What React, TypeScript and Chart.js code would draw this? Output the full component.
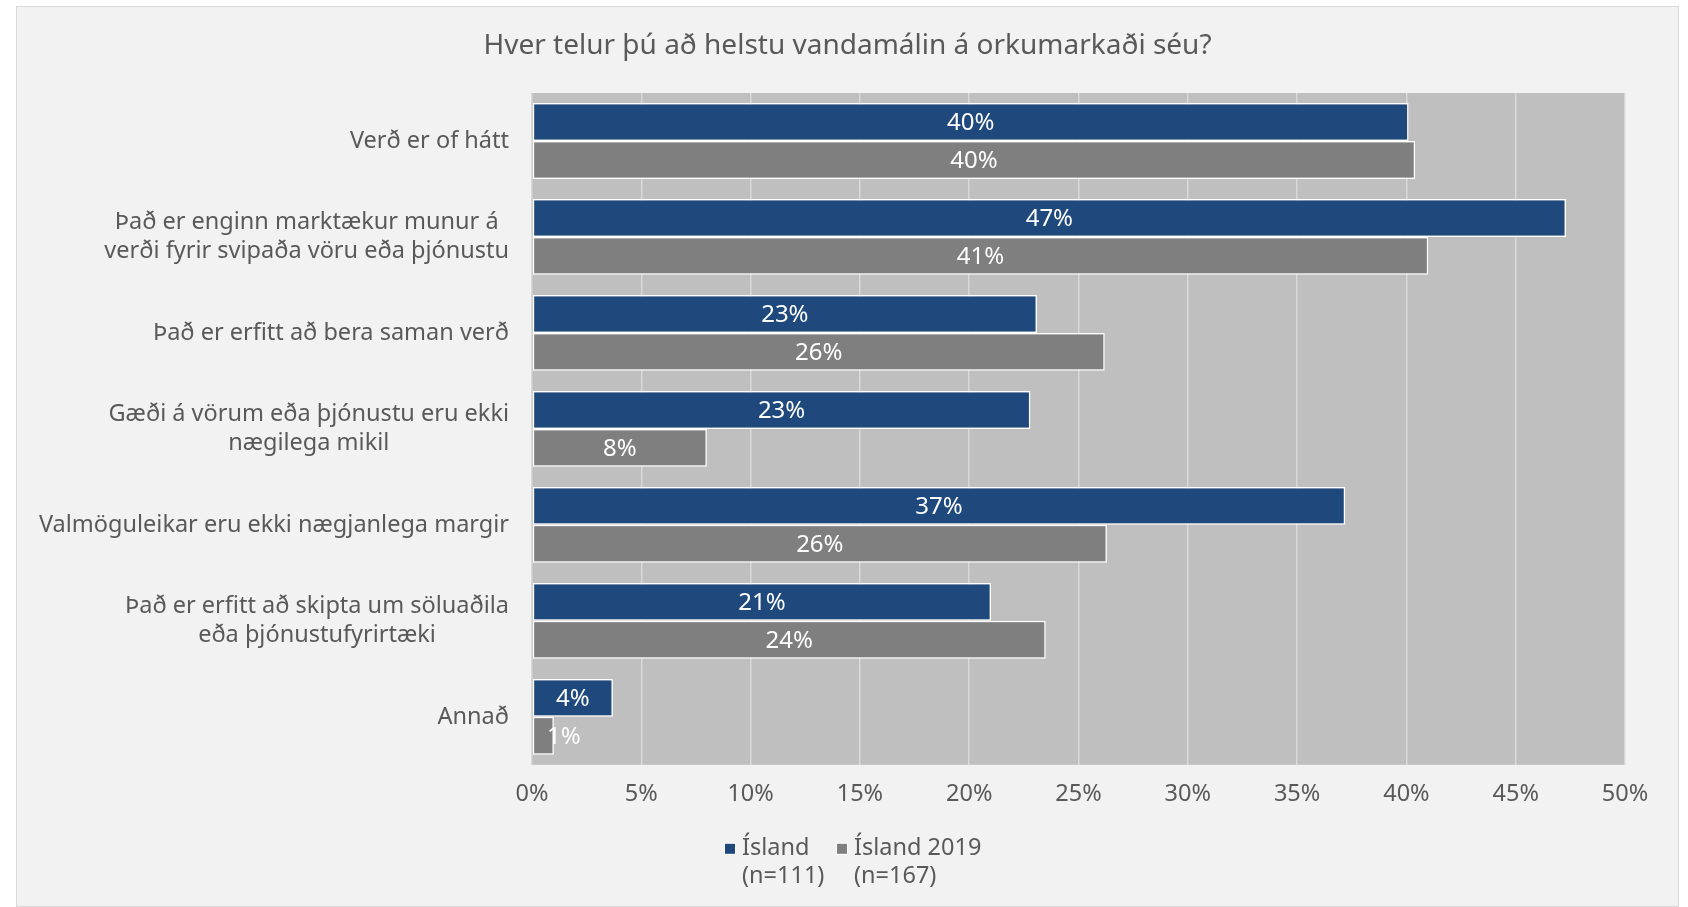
import React, { useEffect, useRef } from "react";
import { Chart, registerables } from "chart.js";

Chart.register(...registerables);

const title = "Hver telur þú að helstu vandamálin á orkumarkaði séu?";
const categories: string[][] = [
  ["Verð er of hátt"],
  ["Það er enginn marktækur munur á", "verði fyrir svipaða vöru eða þjónustu"],
  ["Það er erfitt að bera saman verð"],
  ["Gæði á vörum eða þjónustu eru ekki", "nægilega mikil"],
  ["Valmöguleikar eru ekki nægjanlega margir"],
  ["Það er erfitt að skipta um söluaðila", "eða þjónustufyrirtæki"],
  ["Annað"],
];
const island = [40.1, 47.3, 23.1, 22.8, 37.2, 21.0, 3.7];
const island2019 = [40.4, 41.0, 26.2, 8.0, 26.3, 23.5, 1.0];
const seriesNames: string[][] = [
  ["Ísland", "(n=111)"],
  ["Ísland 2019", "(n=167)"],
];
const seriesColors = ["#1F497D", "#7F7F7F"];
const xMin = 0;
const xMax = 50;
const xStep = 5;

const FONT = "'Noto Sans', sans-serif";
const TEXT = "#595959";

const plotBg = {
  id: "plotBg",
  beforeDraw(chart: any) {
    const { ctx, chartArea } = chart;
    ctx.save();
    ctx.fillStyle = "#BFBFBF";
    ctx.fillRect(chartArea.left, chartArea.top, chartArea.right - chartArea.left, chartArea.bottom - chartArea.top);
    ctx.restore();
  },
};

const titlePlugin = {
  id: "centerTitle",
  afterDraw(chart: any) {
    const { ctx, width } = chart;
    ctx.save();
    ctx.font = `28px ${FONT}`;
    ctx.fillStyle = TEXT;
    ctx.textAlign = "center";
    ctx.textBaseline = "middle";
    ctx.fillText(title, width / 2, 39);
    ctx.restore();
  },
};

const yLabels = {
  id: "yLabels",
  afterDraw(chart: any) {
    const { ctx, chartArea } = chart;
    const yScale = chart.scales.y;
    ctx.save();
    ctx.font = `23.5px ${FONT}`;
    ctx.fillStyle = TEXT;
    ctx.textAlign = "center";
    ctx.textBaseline = "middle";
    const right = chartArea.left - 23;
    const lh = 29;
    categories.forEach((lines, i) => {
      const y = yScale.getPixelForTick(i);
      const w = Math.max(...lines.map((l) => ctx.measureText(l).width));
      const cx = right - w / 2;
      const y0 = y - ((lines.length - 1) * lh) / 2;
      lines.forEach((l, j) => ctx.fillText(l, cx, y0 + j * lh));
    });
    ctx.restore();
  },
};

const dataLabels = {
  id: "dataLabels",
  afterDatasetsDraw(chart: any) {
    const { ctx, chartArea } = chart;
    ctx.save();
    ctx.font = `24px ${FONT}`;
    ctx.fillStyle = "#FFFFFF";
    ctx.textAlign = "center";
    ctx.textBaseline = "middle";
    chart.data.datasets.forEach((ds: any, di: number) => {
      const meta = chart.getDatasetMeta(di);
      meta.data.forEach((el: any, i: number) => {
        const txt = Math.round(ds.data[i]) + "%";
        const w = ctx.measureText(txt).width;
        let cx = (el.x + el.base) / 2;
        cx = Math.max(cx, chartArea.left + 15 + w / 2);
        ctx.fillText(txt, cx, el.y + 1);
      });
    });
    ctx.restore();
  },
};

const customLegend = {
  id: "customLegend",
  afterDraw(chart: any) {
    const { ctx, chartArea } = chart;
    ctx.save();
    ctx.font = `23.5px ${FONT}`;
    ctx.textBaseline = "middle";
    ctx.textAlign = "left";
    const y1 = chartArea.bottom + 84;
    const lh = 28;
    seriesNames.forEach((lines, i) => {
      const x = 708 + i * 112;
      ctx.fillStyle = "#FFFFFF";
      ctx.fillRect(x - 1, y1 - 6, 12, 12);
      ctx.fillStyle = seriesColors[i];
      ctx.fillRect(x, y1 - 5, 10, 10);
      ctx.fillStyle = TEXT;
      const tx = x + 17;
      lines.forEach((l, j) => ctx.fillText(l, tx, y1 + j * lh));
    });
    ctx.restore();
  },
};

export default function App() {
  const ref = useRef<HTMLCanvasElement | null>(null);
  useEffect(() => {
    if (!ref.current) return;
    const chart = new Chart(ref.current, {
      type: "bar",
      data: {
        labels: categories.map((c) => c.join(" ")),
        datasets: [
          {
            label: seriesNames[0].join(" "),
            data: island,
            backgroundColor: seriesColors[0],
            borderColor: "#FFFFFF",
            borderWidth: 1.5,
            borderSkipped: false,
            categoryPercentage: 0.79,
            barPercentage: 1,
          },
          {
            label: seriesNames[1].join(" "),
            data: island2019,
            backgroundColor: seriesColors[1],
            borderColor: "#FFFFFF",
            borderWidth: 1.5,
            borderSkipped: false,
            categoryPercentage: 0.79,
            barPercentage: 1,
          },
        ],
      },
      options: {
        indexAxis: "y",
        responsive: false,
        animation: false,
        layout: { padding: { left: 0, right: 53, top: 86, bottom: 83 } },
        plugins: {
          legend: { display: false },
          tooltip: { enabled: false },
          title: { display: false },
        },
        scales: {
          x: {
            min: xMin,
            max: xMax,
            ticks: {
              stepSize: xStep,
              color: TEXT,
              font: { family: FONT, size: 23.5 },
              padding: 15,
              callback: (v: any) => v + "%",
            },
            grid: { color: "#D9D9D9", lineWidth: 1.5, drawTicks: false },
            border: { display: false },
          },
          y: {
            ticks: { display: false },
            grid: { display: false },
            border: { display: false },
            afterFit: (scale: any) => {
              scale.width = 515;
            },
          },
        },
      },
      plugins: [plotBg, titlePlugin, yLabels, dataLabels, customLegend],
    });
    return () => chart.destroy();
  }, []);
  return (
    <div
      style={{
        position: "absolute",
        left: 16,
        top: 6,
        width: 1661,
        height: 899,
        border: "1px solid #D9D9D9",
        background: "#F2F2F2",
      }}
    >
      <canvas ref={ref} width={1661} height={899} style={{ display: "block" }} />
    </div>
  );
}
